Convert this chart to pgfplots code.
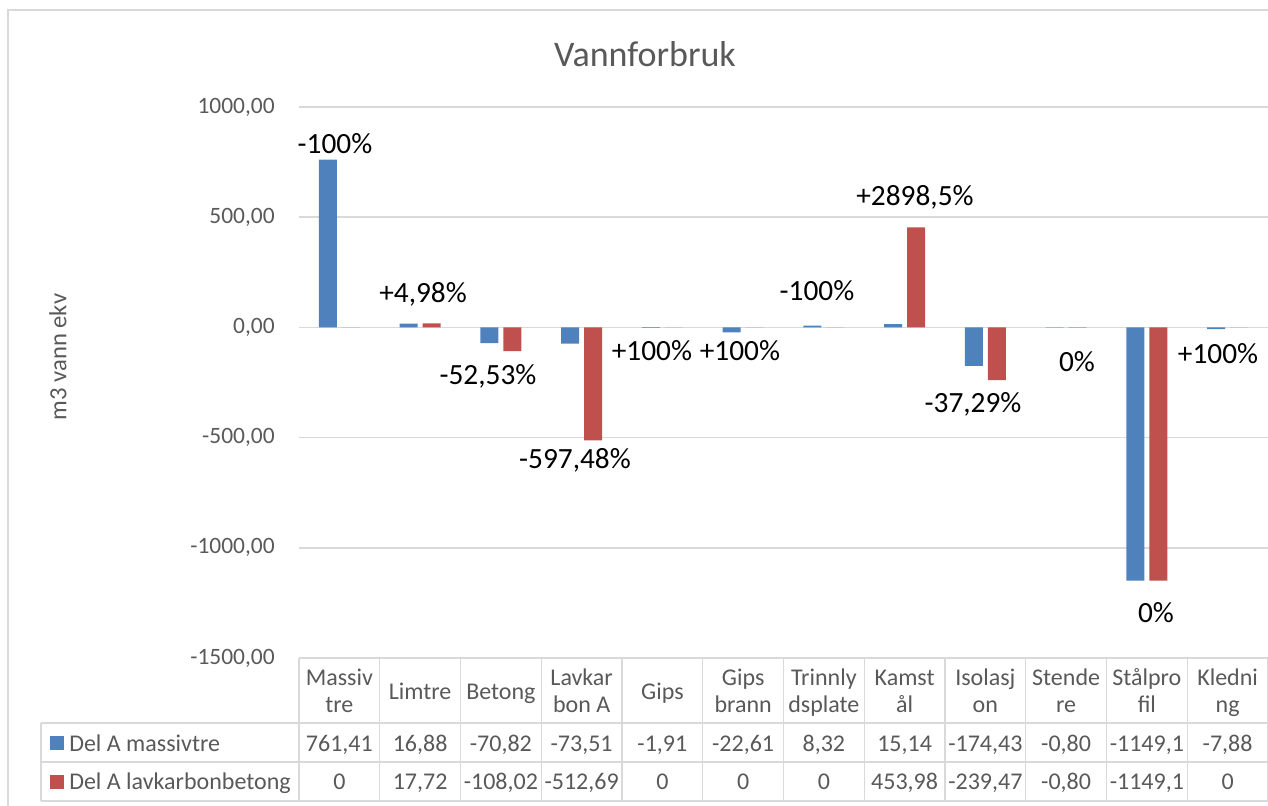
\documentclass[border=0pt]{standalone}
\usepackage{pgfplots}
\pgfplotsset{compat=1.18}
\usepackage{fontspec}
\setmainfont{Carlito}
\definecolor{xblue}{HTML}{4F81BD}
\definecolor{xred}{HTML}{C0504D}
\definecolor{gridc}{HTML}{D9D9D9}
\definecolor{txt}{HTML}{595959}
\newcommand{\tf}{\fontsize{18}{20}\selectfont}
\tikzset{lab/.style={anchor=base, inner sep=0pt, font=\fontsize{22}{24}\selectfont, text=black}}
\begin{document}
\begin{tikzpicture}
\useasboundingbox (-224.25pt,-111pt) rectangle (726.75pt,493.5pt);
\draw[gridc, line width=0.9pt] (-218.25pt,-115pt) -- (-218.25pt,486pt) -- (730pt,486pt);
\begin{axis}[at={(0,0)}, anchor=south west, scale only axis,
  width=726.75pt, height=413.25pt,
  xmin=-0.5, xmax=11.5, ymin=-1500, ymax=1000,
  ytick={-1500,-1000,-500,0,500,1000}, xtick=\empty,
  axis line style={draw=none}, major tick length=0pt,
  ymajorgrids, major grid style={draw=gridc, line width=1.1pt},
  ybar=3.75pt, bar width=13.5pt, clip=false,
  yticklabel={\pgfmathprintnumber[fixed,fixed zerofill,precision=2,use comma,1000 sep={},assume math mode=true]{\tick}},
  yticklabel style={font=\fontsize{17.6}{20}\selectfont, text=txt, inner sep=0pt, xshift=-18pt},
]
\addplot[fill=xblue, draw=none] coordinates {(0,761.41)(1,16.88)(2,-70.82)(3,-73.51)(4,-1.91)(5,-22.61)(6,8.32)(7,15.14)(8,-174.43)(9,-0.80)(10,-1149.1)(11,-7.88)};
\addplot[fill=xred, draw=none] coordinates {(0,0)(1,17.72)(2,-108.02)(3,-512.69)(4,0)(5,0)(6,0)(7,453.98)(8,-239.47)(9,-0.80)(10,-1149.1)(11,0)};
\node[lab] at (axis cs:-0.054,791) {-100\%};
\node[lab] at (axis cs:1.036,111) {+4,98\%};
\node[lab] at (axis cs:1.84,-261) {-52,53\%};
\node[lab] at (axis cs:2.918,-642) {-597,48\%};
\node[lab] at (axis cs:3.871,-148) {+100\%};
\node[lab] at (axis cs:4.961,-148) {+100\%};
\node[lab] at (axis cs:5.915,120) {-100\%};
\node[lab] at (axis cs:7.128,555) {+2898,5\%};
\node[lab] at (axis cs:7.847,-388) {-37,29\%};
\node[lab] at (axis cs:9.135,-202) {0\%};
\node[lab] at (axis cs:10.113,-1341) {0\%};
\node[lab] at (axis cs:10.881,-162) {+100\%};
\end{axis}
% title and y label
\node[anchor=base, inner sep=0pt, font=\fontsize{27}{30}\selectfont, text=txt] at (259.5pt,443.5pt) {Vannforbruk};
\node[rotate=90, inner sep=0pt, font=\fontsize{18.5}{20}\selectfont, text=txt] at (-180.75pt,225.75pt) {m3 vann ekv};
% data table grid
\begin{scope}[gridc, line width=1.1pt]
\foreach \k in {0,...,12} \draw (\k*60.5625pt,0pt) -- (\k*60.5625pt,-107.25pt);
\draw (-193.5pt,-48.75pt) -- (726.75pt,-48.75pt);
\draw (-193.5pt,-78pt) -- (726.75pt,-78pt);
\draw (-193.5pt,-107.25pt) -- (726.75pt,-107.25pt);
\draw (-193.5pt,-48.75pt) -- (-193.5pt,-107.25pt);
\end{scope}
\begin{scope}[every node/.style={inner sep=0pt, anchor=base, font=\tf, text=txt}]
\foreach \k/\a/\b in {0/Massiv/tre,3/Lavkar/bon A,5/Gips/brann,6/Trinnly/dsplate,7/Kamst/ål,8/Isolasj/on,9/Stende/re,10/Stålpro/fil,11/Kledni/ng}{
  \node at ({(\k+0.5)*60.5625pt},-21pt) {\a};
  \node at ({(\k+0.5)*60.5625pt},-41.25pt) {\b};
}
\foreach \k/\a in {1/Limtre,2/Betong,4/Gips}{
  \node at ({(\k+0.5)*60.5625pt},-31.5pt) {\a};
}
\foreach \k/\v in {0/{761,41},1/{16,88},2/{-70,82},3/{-73,51},4/{-1,91},5/{-22,61},6/{8,32},7/{15,14},8/{-174,43},9/{-0,80},10/{-1149,1},11/{-7,88}}{
  \node at ({(\k+0.5)*60.5625pt},-70.5pt) {\v};
}
\foreach \k/\v in {0/0,1/{17,72},2/{-108,02},3/{-512,69},4/0,5/0,6/0,7/{453,98},8/{-239,47},9/{-0,80},10/{-1149,1},11/0}{
  \node at ({(\k+0.5)*60.5625pt},-99pt) {\v};
}
\node[anchor=base west] at (-172.5pt,-70.5pt) {Del A massivtre};
\node[anchor=base west] at (-172.5pt,-99pt) {Del A lavkarbonbetong};
\end{scope}
\fill[xblue] (-181.5pt,-63.75pt) ++(-4.9pt,-4.9pt) rectangle ++(9.8pt,9.8pt);
\fill[xred] (-181.5pt,-93pt) ++(-4.9pt,-4.9pt) rectangle ++(9.8pt,9.8pt);
\end{tikzpicture}
\end{document}
